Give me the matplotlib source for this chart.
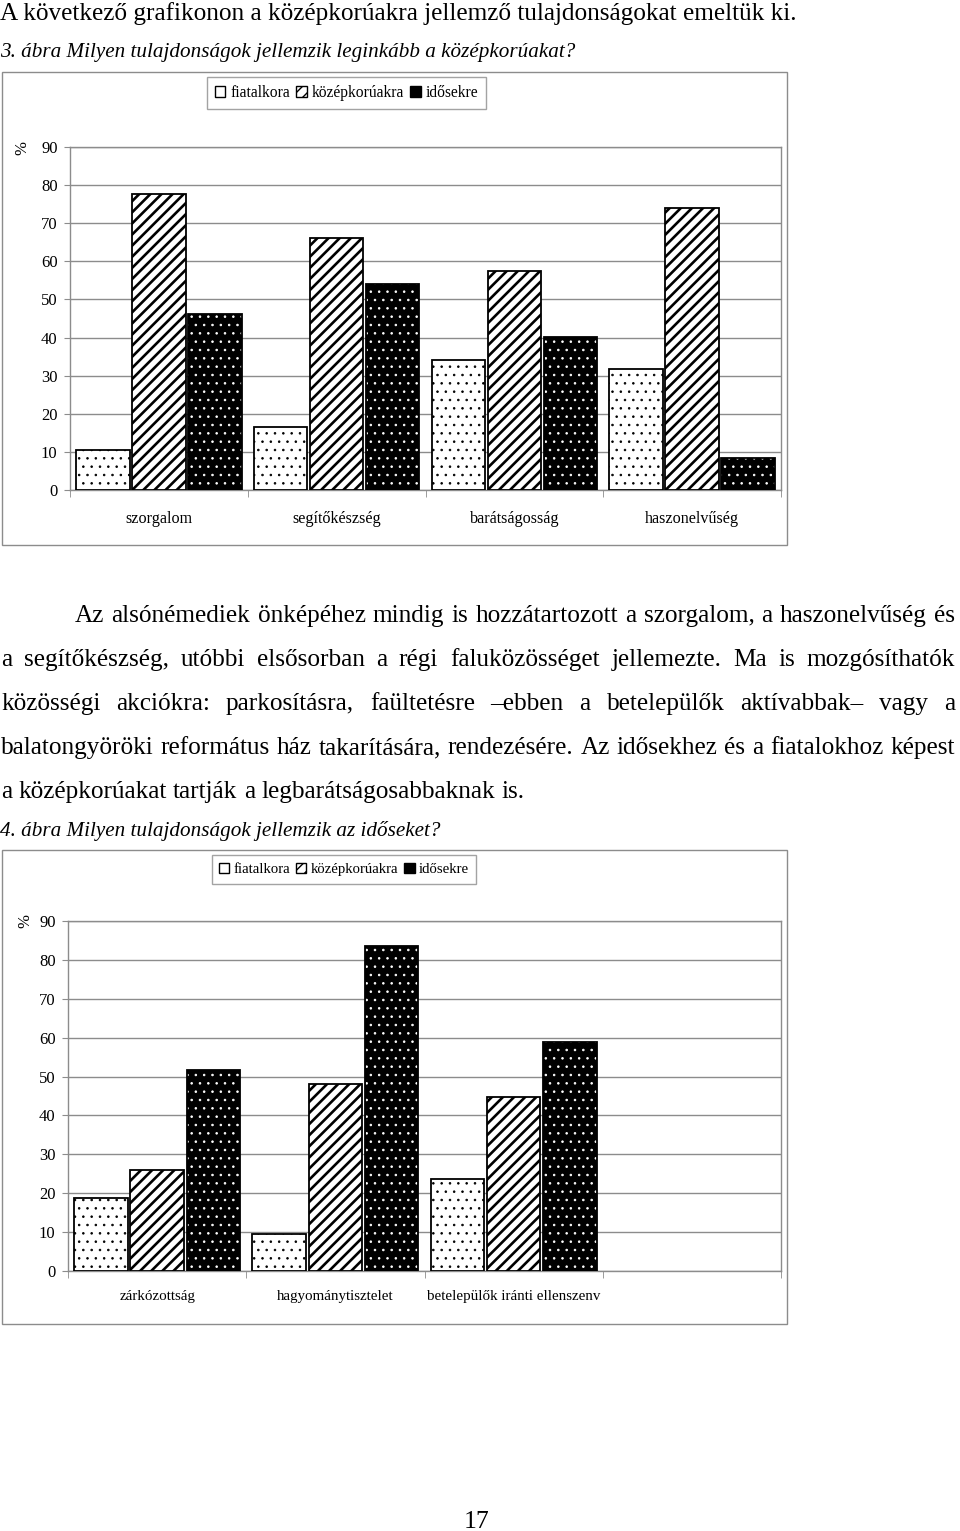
import numpy as np
import matplotlib
matplotlib.use('Agg')
import matplotlib.pyplot as plt
from matplotlib.patches import Rectangle, Patch

plt.rcParams['font.family'] = ['Liberation Serif', 'DejaVu Serif']
plt.rcParams['hatch.linewidth'] = 1.0

W, H = 960, 1531

# -- data
series = ['fiatalkora', 'középkorúakra', 'idősekre']

cats1 = ['szorgalom', 'segítőkészség', 'barátságosság', 'haszonelvűség']
fiatal1 = [10.5, 16.6, 34.1, 31.8]
kozep1 = [77.6, 66.0, 57.5, 73.9]
idos1 = [46.2, 54.0, 40.2, 8.4]

cats2 = ['zárkózottság', 'hagyománytisztelet', 'betelepülők iránti ellenszenv', '']
fiatal2 = [18.8, 9.4, 23.6]
kozep2 = [26.1, 48.0, 44.8]
idos2 = [51.8, 83.6, 58.8]

yticks = list(range(0, 100, 10))

heading = 'A következő grafikonon a középkorúakra jellemző tulajdonságokat emeltük ki.'
caption1 = '3. ábra Milyen tulajdonságok jellemzik leginkább a középkorúakat?'
caption2 = '4. ábra Milyen tulajdonságok jellemzik az időseket?'
paragraph = [
    'Az alsónémediek önképéhez mindig is hozzátartozott a szorgalom, a haszonelvűség és',
    'a segítőkészség, utóbbi elsősorban a régi faluközösséget jellemezte. Ma is mozgósíthatók',
    'közösségi akciókra: parkosításra, faültetésre –ebben a betelepülők aktívabbak– vagy a',
    'balatongyöröki református ház takarítására, rendezésére. Az idősekhez és a fiatalokhoz képest',
    'a középkorúakat tartják a legbarátságosabbaknak is.',
]
page_no = '17'


def fx(x):
    return x / W


def fy(y):
    return 1 - y / H


GRAY = '#8c8c8c'
BODY = 18.2
CAPT = 15.2
TICK = 12


def draw_bars(ax, x, vals, style):
    hlw = 1.9 if style == 'stripes' else 0.6
    with plt.rc_context({'hatch.linewidth': hlw}):
        if style == 'white':
            bars = ax.bar(x, vals, width=0.30, color='white', edgecolor='black',
                          hatch='..', linewidth=0, zorder=3)
        elif style == 'stripes':
            bars = ax.bar(x, vals, width=0.30, color='white', edgecolor='black',
                          hatch='///', linewidth=0, zorder=3)
        else:
            bars = ax.bar(x, vals, width=0.30, color='black', edgecolor='white',
                          hatch='..', linewidth=0, zorder=3)
    for b in bars:
        if hasattr(b, 'set_hatch_linewidth'):
            b.set_hatch_linewidth(hlw)
    # outline
    ax.bar(x, vals, width=0.30, fill=False, edgecolor='black', linewidth=1.3, zorder=4)


def make_chart(fig, rect, frame, cats, data, legend_box, pct_pos, catsize, legsize, catpad):
    # outer frame
    fig.patches.append(Rectangle((fx(frame[0]), fy(frame[3])),
                                 (frame[2] - frame[0]) / W, (frame[3] - frame[1]) / H,
                                 transform=fig.transFigure, fill=False,
                                 edgecolor=GRAY, linewidth=1.0))
    x0, y0, x1, y1 = rect
    ax = fig.add_axes([fx(x0), fy(y1), (x1 - x0) / W, (y1 - y0) / H])
    n = len(cats)
    ax.set_xlim(-0.5, n - 0.5)
    ax.set_ylim(0, 90)
    ax.set_yticks(yticks)
    ax.yaxis.grid(True, color=GRAY, linewidth=1.0, zorder=0)
    ax.set_axisbelow(True)
    for s in ax.spines.values():
        s.set_color(GRAY)
        s.set_linewidth(1.0)
    ax.tick_params(axis='y', length=4, color=GRAY, labelsize=TICK, pad=5)
    ax.set_xticks(np.arange(n))
    ax.set_xticklabels(cats, fontsize=catsize)
    ax.tick_params(axis='x', length=0, pad=catpad)
    ax.set_xticks(np.arange(n + 1) - 0.5, minor=True)
    ax.tick_params(axis='x', which='minor', length=5, color=GRAY)

    styles = ['white', 'stripes', 'black']
    offs = [-0.315, 0, 0.315]
    for vals, st, off in zip(data, styles, offs):
        x = np.arange(len(vals)) + off
        draw_bars(ax, x, vals, st)

    fig.text(fx(pct_pos[0]), fy(pct_pos[1]), '%', rotation=90, fontsize=TICK,
             ha='center', va='center')

    handles = [Patch(facecolor='white', edgecolor='black', linewidth=1.0),
               Patch(facecolor='white', edgecolor='black', hatch='///', linewidth=1.0),
               Patch(facecolor='black', edgecolor='black', linewidth=1.0)]
    lx0, ly0, lx1, ly1 = legend_box
    leg = fig.legend(handles, series, loc='center',
                     bbox_to_anchor=(fx((lx0 + lx1) / 2), fy((ly0 + ly1) / 2)),
                     ncol=3, fontsize=legsize, frameon=True, fancybox=False,
                     edgecolor=GRAY, handlelength=0.7, handleheight=0.7,
                     handletextpad=0.3, columnspacing=0.4, borderpad=0.5,
                     borderaxespad=0)
    leg.get_frame().set_linewidth(1.0)
    return ax


def justify_line(fig, renderer, line, base_y, xa, xb, last=False, size=BODY):
    words = line.split(' ')
    texts = [fig.text(0, fy(base_y), w, fontsize=size, va='baseline', ha='left')
             for w in words]
    widths = [t.get_window_extent(renderer).width for t in texts]
    if last or len(words) < 2:
        gap = size * 100 / 72 * 0.25
    else:
        gap = (xb - xa - sum(widths)) / (len(words) - 1)
    x = xa
    for t, w in zip(texts, widths):
        t.set_x(fx(x))
        x += w + gap


fig = plt.figure(figsize=(W / 100, H / 100), dpi=100)
renderer = fig.canvas.get_renderer()

fig.text(fx(0), fy(20), heading, fontsize=BODY, va='baseline', ha='left')
fig.text(fx(0), fy(57), caption1, fontsize=CAPT, style='italic', va='baseline', ha='left')

make_chart(fig, (70, 147, 781, 490), (2, 72, 787, 545), cats1,
           [fiatal1, kozep1, idos1], (207, 75, 486, 111), (22, 148), 11.6, 11.2, 15)

base = 622
for i, line in enumerate(paragraph):
    xa = 75 if i == 0 else 1
    justify_line(fig, renderer, line, base + 44 * i, xa, 955,
                 last=(i == len(paragraph) - 1))

fig.text(fx(0), fy(836), caption2, fontsize=CAPT, style='italic', va='baseline', ha='left')

make_chart(fig, (68, 921, 781, 1271), (2, 850, 787, 1324), cats2,
           [fiatal2, kozep2, idos2], (213, 853, 475, 886), (25, 921), 10.8, 10.6, 14)

fig.text(fx(477), fy(1528), page_no, fontsize=18.5, ha='center', va='baseline')

fig.savefig('out.png', dpi=100)
